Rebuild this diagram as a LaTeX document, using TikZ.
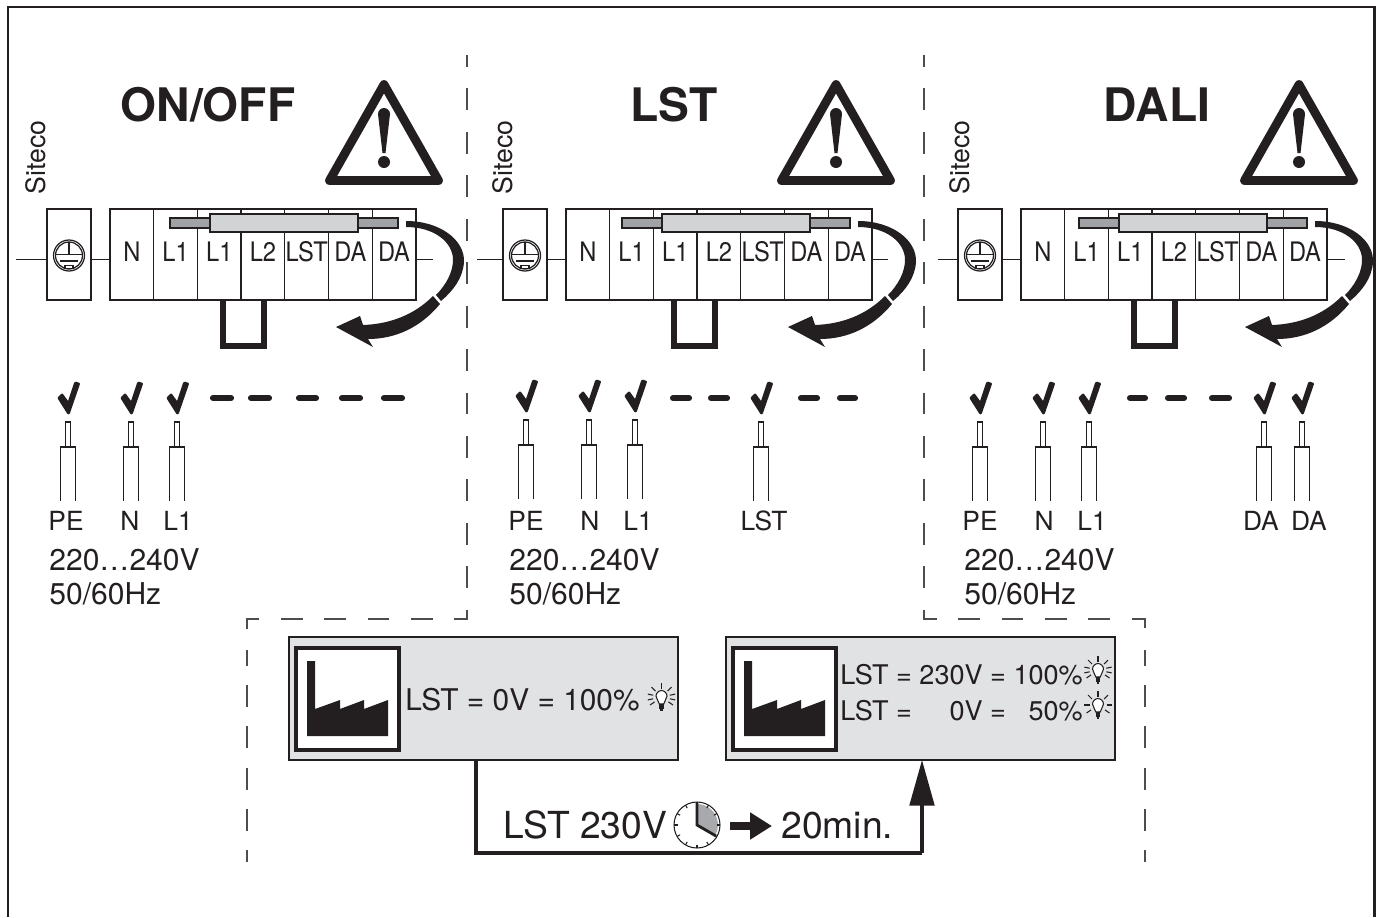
\documentclass[tikz,border=0pt]{standalone}
\usepackage{fontspec}
\setmainfont{TeX Gyre Heros}
\newfontfamily\narrowfont[FakeStretch=0.88]{TeX Gyre Heros}
\usetikzlibrary{arrows.meta}
\definecolor{ink}{HTML}{231F20}
\definecolor{sepgray}{HTML}{4D4D4F}
\definecolor{panelgray}{HTML}{E1E2E4}
\definecolor{sleevegray}{HTML}{D1D3D4}
\definecolor{rodgray}{HTML}{A0A2A5}
\definecolor{handgray}{HTML}{A7A9AC}
\tikzset{
  thinline/.style={draw=ink,line width=0.7pt},
  cell/.style={thinline,minimum width=0.874cm,minimum height=1.82cm,inner sep=0pt,outer sep=0pt},
  earthcell/.style={thinline,minimum width=0.88cm,minimum height=1.82cm,inner sep=0pt,outer sep=0pt},
  celltext/.style={text=ink,inner sep=0pt,yshift=1.6pt,font=\fontsize{15.3}{18}\narrowfont},
  sitecotext/.style={text=ink,inner sep=0pt,rotate=90,font=\fontsize{15.2}{18}\selectfont},
  titletext/.style={text=ink,inner sep=0pt,anchor=base,font=\fontsize{26.3}{30}\selectfont\bfseries},
  wiretext/.style={text=ink,inner sep=0pt,anchor=base,font=\fontsize{15}{18}\selectfont},
  supplytext/.style={text=ink,inner sep=0pt,anchor=base west,font=\fontsize{17.1}{20}\selectfont},
  paneltext/.style={text=ink,inner sep=0pt,anchor=base west,font=\fontsize{#1}{20}\selectfont},
  flowtext/.style={text=ink,inner sep=0pt,anchor=base west,font=\fontsize{21.2}{24}\selectfont},
  panelbox/.style={thinline,line width=1pt,fill=panelgray,minimum width=7.78cm,minimum height=2.46cm,inner sep=0pt,outer sep=0pt},
  sepline/.style={draw=sepgray,line width=0.6pt,dash pattern=on 12.47pt off 12.25pt,dash phase=5.67pt},
  flow/.style={draw=ink,line width=1.9pt},
  pics/earth/.style={code={
    \draw[thinline,fill=white] (0,0) circle (15.5);
    \draw[thinline] (0,0) circle (13.5);
    \draw[thinline] (-14,-1) -- (14,-1) (0,-14) -- (0,-1);
    \draw[draw=ink,line width=1.4pt] (-9,5.5) -- (9,5.5);
    \draw[thinline] (-4,10) rectangle (4,13);
  }},
  pics/warning/.style={code={
    \draw[draw=ink,line width=5pt,line join=round] (0,84.5) -- (54.5,180.5) -- (-54.5,180.5) -- cycle;
    \fill[ink] (-6,114) arc[start angle=180,end angle=360,radius=6] -- (1.5,153) -- (-1.5,153) -- cycle;
    \fill[ink] (0,162) circle (6);
  }},
  pics/turn/.style={code={
    \fill[ink] (406,221) .. controls (440,221) and (465,240) .. (464,262)
      .. controls (463,278) and (453,291) .. (441,301) -- (436,295)
      .. controls (446,285) and (453,272) .. (453,260)
      .. controls (453,242) and (434,227) .. (406,227) -- cycle;
    \fill[ink] (433,296) -- (440,304) .. controls (421,327) and (396,339) .. (368,339)
      -- (373,347) -- (336,327) -- (360,316) -- (363,325)
      .. controls (390,324) and (414,315) .. (433,296) -- cycle;
  }},
  pics/checkmark/.style={code={
    \filldraw[ink,line width=1.6pt,line join=round] (0.5,-2) -- (-9,-17) -- (-6,-20) -- (0.5,-11)
      -- (7.5,-32) -- (10.5,-31) -- cycle;
  }},
  pics/cable/.style={code={
    \draw[thinline,fill=white] (-2.5,0) rectangle (2.5,25);
    \draw[thinline] (-7.5,79) -- (-7.5,25) -- (7.5,25) -- (7.5,79);
  }},
  pics/plant/.style={code={
    \draw[draw=ink,line width=2.3pt,fill=white] (0,0) rectangle (103,102);
    \fill[ink] (11,13) -- (19,13) -- (19,61) -- (44,52) -- (44,61) -- (68,52) -- (68,61)
      -- (92,52) -- (92,88) -- (11,88) -- cycle;
  }},
  pics/lamp/.style={code={
    \foreach \a in {#1}
      \draw[draw=ink,line width=0.6pt] (\a:8.5) -- (\a:14);
    \draw[draw=ink,line width=0.6pt,fill=white] (-2.2,7) .. controls (-2.5,3.5) and (-5.5,2.5) .. (-5.5,-1)
      .. controls (-5.5,-4) and (-2.5,-6.5) .. (0,-6.5) .. controls (2.5,-6.5) and (5.5,-4) .. (5.5,-1)
      .. controls (5.5,2.5) and (2.5,3.5) .. (2.2,7) -- cycle;
    \fill[ink] (-2.4,7) rectangle (2.4,11.5);
    \fill[ink] (-1.2,11.5) rectangle (1.2,14);
  }},
  pics/clock/.style={code={
    \fill[handgray] (0,0) -- (0,-21) arc[start angle=-90,end angle=30,radius=21] -- cycle;
    \draw[draw=ink,line width=0.6pt] (0,0) circle (23);
    \foreach \a in {0,30,...,330}
      \draw[draw=ink,line width=0.6pt] (\a:19.5) -- (\a:23);
    \draw[draw=ink,line width=1.6pt,line join=miter] (0,-22) -- (0,0) -- (30:22);
  }},
}
\begin{document}
\begin{tikzpicture}[x=0.02cm,y=-0.02cm]
\useasboundingbox (0,0) rectangle (1385,917);

\draw[draw=ink,line width=1.7pt] (8,917) -- (8,7) -- (1374,7) -- (1374,917);

\draw[sepline] (467,55) -- (467,619) -- (247,619) -- (247,631);
\draw[sepline] (924,55) -- (924,619) -- (1145,619) -- (1145,631);
\draw[sepline,dash pattern=on 12.47pt off 11pt] (247,862) -- (247,650);
\draw[sepline,dash pattern=on 12.47pt off 11pt] (1145,862) -- (1145,650);

\node[titletext] (title1) at (208,121.5) {ON/OFF};
\node[titletext] (title2) at (674,121.5) {LST};
\node[titletext] (title3) at (1157,121.5) {DALI};
\pic at (384,0) {warning};
\pic at (836,0) {warning};
\pic at (1299,0) {warning};

\node[sitecotext] (site1) at (36,157.5) {Siteco};
\node[sitecotext] (site2) at (503,157.5) {Siteco};
\node[sitecotext] (site3) at (960,157.5) {Siteco};

\foreach \p/\dx/\dr/\du/\lx/\rx in {1/0/0/0/16/433,2/456/452/451/477/888,3/911/909/911/938/1345} {
  \coordinate (lead\p) at (\lx,259.5);
  \coordinate (end\p) at (\rx,259.5);
  \node[earthcell] (earth\p) at (69+\dx,254.5) {};
  \pic at (69+\dx,255.5) {earth};
  \foreach \lab [count=\i] in {N,L1,L1,L2,LST,DA,DA} {
    \node[cell] (c\p-\i) at ({110+\dx+43.7*(\i-.5)},254.5) {};
    \node[celltext] (t\p-\i) at (c\p-\i.center) {\lab};
  }
  \draw[thinline] (lead\p) -- (lead\p -| earth\p.west);
  \draw[thinline] (lead\p -| earth\p.east) -- (lead\p -| c\p-1.west);
  \draw[thinline] (lead\p -| c\p-7.east) -- (end\p);
  \draw[thinline,fill=rodgray] (170+\dr,218) rectangle (398+\dr,228);
  \draw[thinline,fill=sleevegray] (210+\dr,214) rectangle (358+\dr,232);
  \draw[draw=ink,line width=3.3pt] (223+\du,300) -- (223+\du,346) -- (264+\du,346) -- (264+\du,300);
  \pic at (\dr,0) {turn};
}

\foreach \a/\b in {213/231,251/269,299/316,342/360,384/402,
    673/689,711/727,801/817,840/855,1130/1145,1168/1184,1212/1229}
  \draw[draw=ink,line width=3.5pt,line cap=round] (\a,398) -- (\b,398);

\foreach \wx/\wy in {68/422,131/422,177/422,526/420,589/420,635/420,761/422,
    980/422,1043/422,1089/422,1264/422,1302/422} {
  \pic at (\wx,\wy) {cable};
  \pic at (\wx,\wy-7) {checkmark};
}

\foreach \lab/\wx [count=\i] in {PE/66,N/130,L1/178,PE/526,N/590,L1/638,LST/764,PE/980,N/1044,L1/1092,DA/1261,DA/1309}
  \node[wiretext] (w\i) at (\wx,530) {\lab};

\foreach \p/\sx in {1/49,2/509,3/964} {
  \node[supplytext] (volt\p) at (\sx,570) {220…240V};
  \node[supplytext] (freq\p) at (\sx,604) {50/60Hz};
}

\node[panelbox] (boxa) at (483.5,698.5) {};
\node[panelbox] (boxb) at (920.5,698.5) {};
\pic at (296,648) {plant};
\pic at (733,648) {plant};
\node[paneltext=17] (texta) at (405,710) {LST = 0V = 100\%};
\node[paneltext=15.4] (textb) at (840,684) {LST = 230V = 100\%};
\node[paneltext=15.4] (textc) at (840,720) {LST = \phantom{23}0V = \phantom{1}50\%};
\pic at (661.5,697) {lamp={-90,-135,-45,168,-168,12,-12,145,35}};
\pic at (1098,670) {lamp={-90,-135,-45,168,-168,12,-12,145,35}};
\pic at (1098,705) {lamp={-90,-135,-45,180,0,145,35}};

\coordinate (fa) at (476,853);
\coordinate (fb) at (922,853);
\draw[flow] (boxa.south -| fa) -- (fa) -- (fb);
\draw[flow,-{Triangle[length=26pt,width=14pt]}] (fb) -- (boxb.south -| fb);
\node[flowtext] (lst) at (503,838) {LST 230V};
\pic at (697,825) {clock};
\coordinate (ga) at (730,826);
\coordinate (gb) at (772,826);
\draw[draw=ink,line width=5.1pt,-{Triangle[length=12.5pt,width=14.7pt]}] (ga) -- (gb);
\node[flowtext] (mins) at (781,838) {20min.};
\end{tikzpicture}
\end{document}
